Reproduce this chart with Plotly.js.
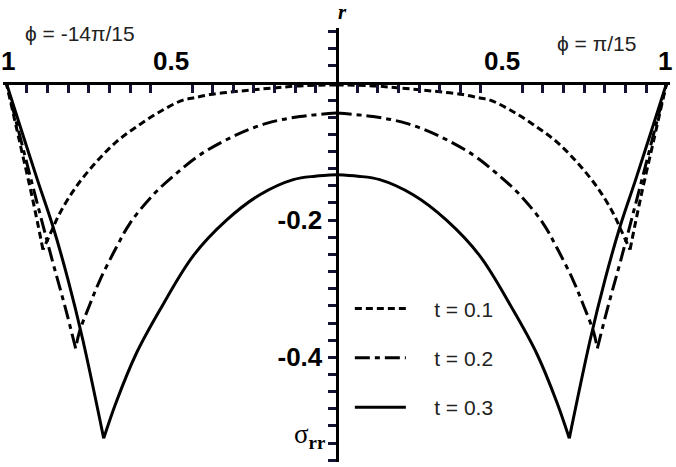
<!DOCTYPE html>
<html>
<head>
<meta charset="utf-8">
<script src="https://cdn.plot.ly/plotly-3.0.1.min.js"></script>
<style>html,body{margin:0;padding:0;background:#fff}#chart{width:676px;height:467px}</style>
</head>
<body>
<div id="chart"></div>
<script>
// r values (distance) and stress sigma_rr for each time t (same profile mirrored on both sides)
const rT01 = [0, 0.1, 0.182, 0.25, 0.313, 0.383, 0.434, 0.465, 0.535, 0.606, 0.667, 0.727, 0.788, 0.838, 0.865, 0.889, 0.92, 0.96, 1];
const sT01 = [-0.003, -0.004, -0.007, -0.010, -0.013, -0.017, -0.022, -0.025, -0.042, -0.064, -0.086, -0.115, -0.151, -0.190, -0.218, -0.243, -0.17, -0.085, 0];

const rT02 = [0, 0.111, 0.212, 0.313, 0.414, 0.485, 0.555, 0.626, 0.667, 0.717, 0.747, 0.778, 0.790, 0.82, 0.86, 0.925, 1];
const sT02 = [-0.044, -0.049, -0.059, -0.078, -0.105, -0.132, -0.163, -0.205, -0.240, -0.288, -0.323, -0.362, -0.387, -0.33, -0.26, -0.141, 0];

const rT03 = [0, 0.065, 0.131, 0.232, 0.333, 0.434, 0.535, 0.606, 0.667, 0.705, 0.768, 0.813, 0.859, 0.906, 0.955, 1];
const sT03 = [-0.134, -0.136, -0.141, -0.163, -0.200, -0.252, -0.331, -0.394, -0.465, -0.518, -0.375, -0.287, -0.209, -0.141, -0.068, 0];

const seriesNames = ['t = 0.1', 't = 0.2', 't = 0.3'];
const leftLabel = 'ϕ = -14π/15';
const rightLabel = 'ϕ = π/15';

const xTickVals = [-1, -0.5, 0.5, 1];
const xTickText = ['1', '0.5', '0.5', '1'];
const yTickVals = [-0.2, -0.4];
const yTickText = ['-0.2', '-0.4'];

// tick-mark positions (marks every 1/16 on r, every 0.025 on sigma)
const xMarks = [];
for (let k = -15; k <= 15; k++) { if (k !== 0 && Math.abs(k) !== 8) xMarks.push(k / 16); }
const yMarks = [], yMarkText = [];
for (let k = 3; k >= -22; k--) {
  if (k === 0) continue;
  const v = Math.round(k * 25) / 1000;
  yMarks.push(v);
  const idx = yTickVals.indexOf(v);
  yMarkText.push(idx >= 0 ? yTickText[idx] : ' ');
}

const dashes = ['7px,4px', '15px,5px,5px,5px', 'solid'];
const rs = [rT01, rT02, rT03];
const ss = [sT01, sT02, sT03];
const pad = '\u00a0\u00a0\u00a0\u00a0';

const traces = [];
for (let i = 0; i < 3; i++) {
  const r = rs[i], s = ss[i];
  // split each profile at its cusp (the minimum) so both branches stay smooth
  let k = 0;
  for (let j = 1; j < s.length; j++) if (s[j] < s[k]) k = j;
  const branches = [[r.slice(0, k + 1), s.slice(0, k + 1)], [r.slice(k), s.slice(k)]];
  branches.forEach((b, bi) => {
    [-1, 1].forEach(sign => {
      traces.push({
        x: b[0].map(v => sign * v), y: b[1], type: 'scatter', mode: 'lines',
        name: pad + seriesNames[i], legendgroup: 'g' + i,
        showlegend: (bi === 0 && sign === 1),
        line: {color: '#000', width: 3, dash: dashes[i], shape: 'spline', smoothing: 1}
      });
    });
  });
}

const yMin = -0.5525, yMax = 0.080;
const xPos = (0 - yMin) / (yMax - yMin);
const tickInk = 'rgb(20,20,50)';
const boldFont = {size: 26, family: 'Liberation Sans, Arial, sans-serif', weight: 'bold', color: '#000'};

const annotations = [
  {x: -0.778, y: 0.0714, xref: 'x', yref: 'y', text: leftLabel, showarrow: false,
   font: {size: 21, color: '#222', family: 'Liberation Sans, Arial, sans-serif'}},
  {x: 0.787, y: 0.057, xref: 'x', yref: 'y', text: rightLabel, showarrow: false,
   font: {size: 21, color: '#222', family: 'Liberation Sans, Arial, sans-serif'}},
  {x: 0.509, y: 1.004, xref: 'paper', yref: 'paper', yanchor: 'bottom', text: '<b><i>r</i></b>', showarrow: false,
   font: {size: 21, family: 'Liberation Serif, Times New Roman, serif', color: '#000'}},
  {x: -0.083, y: -0.514, xref: 'x', yref: 'y', text: 'σ<sub><b>rr</b></sub>', showarrow: false,
   font: {size: 27, family: 'Liberation Serif, Times New Roman, serif', color: '#000'}}
];
// r-axis labels, set above the axis line at sigma = 0
xTickVals.forEach((v, i) => {
  annotations.push({x: v, y: 0, xref: 'x', yref: 'y', yanchor: 'bottom', yshift: 5,
    xshift: Math.abs(v) === 1 ? -2 * Math.sign(v) : 0,
    text: xTickText[i], showarrow: false, font: boldFont});
});

const layout = {
  width: 676, height: 467,
  margin: {l: 3.4, r: 6, t: 28, b: 5},
  showlegend: true,
  legend: {
    x: 0.52, y: 0.40, xanchor: 'left', yanchor: 'top',
    bgcolor: 'rgba(0,0,0,0)', borderwidth: 0,
    font: {size: 21, color: '#222', family: 'Liberation Sans, Arial, sans-serif'}, tracegroupgap: 19,
    itemwidth: 51, traceorder: 'grouped'
  },
  xaxis: {
    range: [-1.01, 1.01], anchor: 'free', position: xPos, side: 'top',
    showline: true, linecolor: '#000', linewidth: 3,
    showgrid: false, zeroline: false,
    tickmode: 'array', tickvals: xMarks, showticklabels: false,
    ticks: 'inside', ticklen: 8, tickwidth: 3, tickcolor: tickInk
  },
  yaxis: {
    range: [yMin, yMax], anchor: 'free', position: 0.5, side: 'left',
    showline: true, linecolor: '#000', linewidth: 3,
    showgrid: false, zeroline: false,
    tickmode: 'array', tickvals: yMarks, ticktext: yMarkText,
    ticks: 'outside', ticklen: 8, tickwidth: 3, tickcolor: tickInk,
    tickfont: boldFont
  },
  annotations: annotations
};

Plotly.newPlot('chart', traces, layout, {displayModeBar: false, staticPlot: true});
</script>
</body>
</html>
